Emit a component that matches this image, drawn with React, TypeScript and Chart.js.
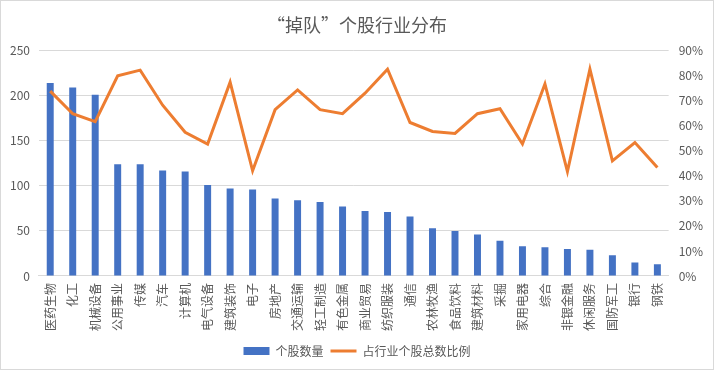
import React, { useEffect, useRef } from "react";
import { Chart, registerables } from "chart.js";

Chart.register(...registerables);

const categories = [
  "医药生物", "化工", "机械设备", "公用事业", "传媒", "汽车", "计算机", "电气设备", "建筑装饰", "电子",
  "房地产", "交通运输", "轻工制造", "有色金属", "商业贸易", "纺织服装", "通信", "农林牧渔", "食品饮料", "建筑材料",
  "采掘", "家用电器", "综合", "非银金融", "休闲服务", "国防军工", "银行", "钢铁",
];

const stockCounts = [
  214, 209, 201, 124, 124, 117, 116, 101, 97, 96,
  86, 84, 82, 77, 72, 71, 66, 53, 50, 46,
  39, 33, 32, 30, 29, 23, 15, 13,
];

const shareRatio = [
  0.738, 0.648, 0.616, 0.799, 0.822, 0.682, 0.574, 0.527, 0.774, 0.42,
  0.664, 0.743, 0.664, 0.648, 0.73, 0.826, 0.613, 0.577, 0.569, 0.648,
  0.668, 0.527, 0.767, 0.417, 0.826, 0.46, 0.533, 0.433,
];

const leftTicks = [0, 50, 100, 150, 200, 250];
const rightTicks = [0, 0.1, 0.2, 0.3, 0.4, 0.5, 0.6, 0.7, 0.8, 0.9];

const titleText = "“掉队”个股行业分布";
const seriesNames = ["个股数量", "占行业个股总数比例"];

const FONT = "'Noto Sans CJK SC', 'Noto Sans', sans-serif";
const GRAY = "#595959";

export default function App() {
  const ref = useRef<HTMLCanvasElement | null>(null);

  useEffect(() => {
    if (!ref.current) return;
    const chart = new Chart(ref.current, {
      type: "bar",
      data: {
        labels: categories,
        datasets: [
          {
            type: "bar",
            label: seriesNames[0],
            data: stockCounts,
            backgroundColor: "#4472C4",
            borderWidth: 0,
            barPercentage: 0.31,
            categoryPercentage: 1,
            yAxisID: "y",
            order: 1,
            pointStyle: "rect",
          } as any,
          {
            type: "line",
            label: seriesNames[1],
            data: shareRatio,
            borderColor: "#ED7D31",
            backgroundColor: "#ED7D31",
            borderWidth: 3,
            pointRadius: 0,
            tension: 0,
            yAxisID: "y1",
            order: 0,
            pointStyle: "line",
          } as any,
        ],
      },
      options: {
        responsive: false,
        animation: false,
        layout: { padding: { left: 0, right: 0, top: 0, bottom: 2 } },
        plugins: {
          title: {
            display: true,
            text: titleText,
            color: GRAY,
            font: { family: FONT, size: 18, weight: "normal" },
            padding: { top: 13, bottom: 15 },
          },
          legend: {
            position: "bottom",
            labels: {
              color: GRAY,
              font: { family: FONT, size: 12 },
              usePointStyle: true,
              pointStyleWidth: 26,
              boxHeight: 8,
              padding: 7,
              sort: (a: any, b: any) => a.datasetIndex - b.datasetIndex,
            },
          },
          tooltip: { enabled: false },
        },
        scales: {
          x: {
            grid: { display: false, drawTicks: false },
            border: { display: true, color: "#d9d9d9", width: 1 },
            ticks: {
              color: GRAY,
              font: { family: FONT, size: 12 },
              minRotation: 90,
              maxRotation: 90,
              autoSkip: false,
              padding: 7,
            },
          },
          y: {
            position: "left",
            min: 0,
            max: 250,
            afterBuildTicks: (axis: any) => {
              axis.ticks = leftTicks.map((v) => ({ value: v }));
            },
            grid: { color: "#d9d9d9", drawTicks: false },
            border: { display: false },
            ticks: {
              color: GRAY,
              font: { family: FONT, size: 12 },
              padding: 9,
            },
          },
          y1: {
            position: "right",
            min: 0,
            max: 0.9,
            afterBuildTicks: (axis: any) => {
              axis.ticks = rightTicks.map((v) => ({ value: v }));
            },
            grid: { display: false, drawTicks: false },
            border: { display: false },
            ticks: {
              color: GRAY,
              font: { family: FONT, size: 12 },
              padding: 10,
              callback: (v: any) => Math.round(Number(v) * 100) + "%",
            },
          },
        },
      },
    });
    return () => chart.destroy();
  }, []);

  return (
    <div
      style={{
        position: "fixed",
        left: 0,
        top: 0,
        width: 714,
        height: 370,
        boxSizing: "border-box",
        border: "1px solid #d9d9d9",
        background: "#fff",
      }}
    >
      <canvas ref={ref} width={712} height={368} style={{ display: "block" }} />
    </div>
  );
}
